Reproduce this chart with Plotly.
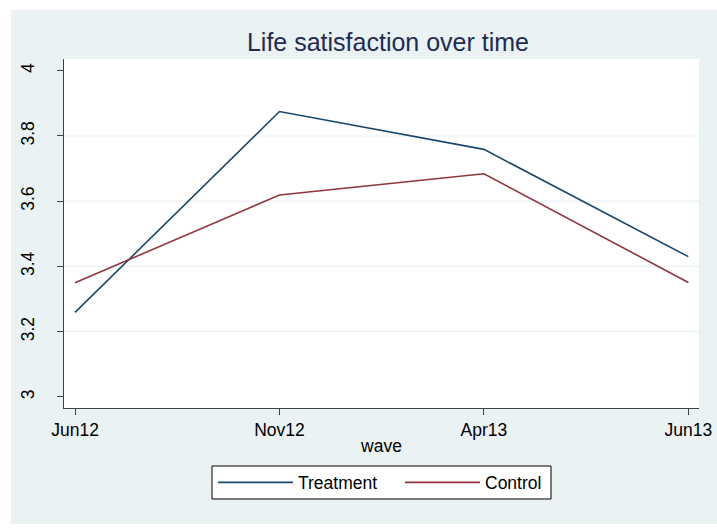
import plotly.graph_objects as go

waves = ["Jun12", "Nov12", "Apr13", "Jun13"]
treatment = [3.259, 3.875, 3.759, 3.430]
control = [3.350, 3.619, 3.684, 3.351]
y_ticks = [3, 3.2, 3.4, 3.6, 3.8, 4]
y_ticklabels = ["3", "3.2", "3.4", "3.6", "3.8", "4"]
grid_vals = [3.2, 3.4, 3.6, 3.8]

W, H = 717, 529
ml, mr, mt, mb = 64, 18, 59, 121
pw, ph = W - ml - mr, H - mt - mb

def px_x(x):
    return (x - ml) / pw

def px_y(y):
    return (H - mb - y) / ph

FONT = "Liberation Sans, Arial, sans-serif"
BG = "#EAF2F3"

fig = go.Figure()
fig.add_trace(go.Scatter(x=list(range(len(waves))), y=treatment, mode="lines",
                         name="Treatment", legend="legend",
                         line=dict(color="#1A476F", width=1.6)))
fig.add_trace(go.Scatter(x=list(range(len(waves))), y=control, mode="lines",
                         name="Control", legend="legend2",
                         line=dict(color="#90353B", width=1.6)))

shapes = [
    dict(type="rect", xref="paper", yref="paper", x0=px_x(11), x1=px_x(717),
         y0=px_y(524), y1=px_y(10), fillcolor=BG, line=dict(width=0), layer="below"),
    dict(type="rect", xref="paper", yref="paper", x0=0, x1=1, y0=0, y1=1,
         fillcolor="white", line=dict(width=0), layer="below"),
    # legend frame
    dict(type="rect", xref="paper", yref="paper", x0=px_x(212), x1=px_x(551),
         y0=px_y(499), y1=px_y(466), fillcolor="white",
         line=dict(color="black", width=1), layer="below"),
]
for g in grid_vals:
    shapes.append(dict(type="line", xref="paper", yref="y", x0=0, x1=1, y0=g, y1=g,
                       line=dict(color=BG, width=1.2), layer="below"))

leg_common = dict(orientation="h", yanchor="middle", y=px_y(482.5), xanchor="left",
                  bgcolor="rgba(0,0,0,0)", borderwidth=0,
                  font=dict(size=17.5), itemwidth=75)

fig.update_layout(
    width=W, height=H, autosize=False,
    margin=dict(l=ml, r=mr, t=mt, b=mb, pad=0, autoexpand=False),
    paper_bgcolor="white", plot_bgcolor="white",
    font=dict(family=FONT, size=17.5, color="black"),
    title=dict(text="Life satisfaction over time", x=388 / W, y=1 - 42 / H,
               xanchor="center", yanchor="middle",
               font=dict(family=FONT, size=25, color="#1E2C53")),
    xaxis=dict(range=[-0.054, 3.052], tickmode="array", tickvals=list(range(len(waves))),
               ticktext=waves, showgrid=False, zeroline=False, showline=True,
               linecolor="#404040", linewidth=1, ticks="outside", ticklen=6,
               tickcolor="#404040", tickfont=dict(size=17.5), automargin=False,
               title=dict(text="wave", font=dict(size=17.5), standoff=0)),
    yaxis=dict(range=[2.966, 4.036], tickmode="array", tickvals=y_ticks,
               ticktext=y_ticklabels, tickangle=-90, showgrid=False, zeroline=False,
               showline=True, linecolor="#404040", linewidth=1, ticks="outside",
               ticklen=6, tickcolor="#404040", tickfont=dict(size=17.5),
               ticklabelstandoff=16, automargin=False),
    legend=dict(x=px_x(213), **leg_common),
    legend2=dict(x=px_x(400), **leg_common),
    shapes=shapes,
    showlegend=True,
)

fig.write_html(
    "out.html",
    config={"responsive": False, "displayModeBar": False},
    post_script="document.body.style.margin='0';document.body.style.overflow='hidden';"
                "document.documentElement.style.overflow='hidden';",
)
